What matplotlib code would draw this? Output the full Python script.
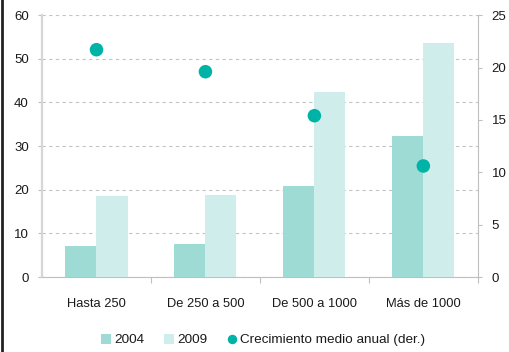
import matplotlib
matplotlib.use("Agg")
import matplotlib.pyplot as plt
from matplotlib.patches import Patch
from matplotlib.lines import Line2D
import numpy as np

plt.rcParams['font.family'] = ['Liberation Sans', 'DejaVu Sans']

categories = ["Hasta 250", "De 250 a 500", "De 500 a 1000", "Más de 1000"]
values_2004 = [7.0, 7.6, 20.9, 32.4]
values_2009 = [18.5, 18.8, 42.4, 53.6]
growth = [21.7, 19.6, 15.4, 10.6]

c2004 = "#9fdbd5"
c2009 = "#cfeeeb"
cdot = "#00b3a7"
text_color = "#1a1a1a"

fig = plt.figure(figsize=(5.10, 3.52), dpi=100)
ax = fig.add_axes([0.0824, 0.213, 0.8545, 0.744])
ax2 = ax.twinx()

x = np.arange(len(categories))
w = 0.285
ax.bar(x - w / 2, values_2004, width=w, color=c2004, zorder=3)
ax.bar(x + w / 2, values_2009, width=w, color=c2009, zorder=3)
ax2.scatter(x, growth, s=95, color=cdot, zorder=4, edgecolors='none')

ax.set_xlim(-0.5, 3.5)
ax.set_ylim(0, 60)
ax.set_yticks(np.arange(0, 61, 10))
ax2.set_ylim(0, 25)
ax2.set_yticks(np.arange(0, 26, 5))

ax.yaxis.grid(True, linestyle=(0, (3, 3)), color="#c4c4c4", linewidth=0.8, zorder=0)
ax.set_axisbelow(True)

# category boundaries as ticks, labels centred between them
ax.set_xticks([0.5, 1.5, 2.5, 3.5])
ax.set_xticklabels([])
ax.set_xticks(x, minor=True)
ax.set_xticklabels(categories, minor=True)
ax.tick_params(axis='x', which='major', length=4, color="#bfbfbf", direction='out')
ax.tick_params(axis='x', which='minor', length=0, pad=15, labelsize=9.3, labelcolor=text_color)
ax.tick_params(axis='y', length=3, color="#bfbfbf", labelsize=9.5, labelcolor=text_color, pad=6.5)
ax2.tick_params(axis='y', length=3, color="#bfbfbf", labelsize=9.5, labelcolor=text_color, pad=7)

for a in (ax, ax2):
    a.spines['top'].set_visible(False)
ax.spines['left'].set_color("#d6d6d6")
ax.spines['left'].set_linewidth(1.6)
ax.spines['bottom'].set_color("#bfbfbf")
ax.spines['right'].set_visible(False)
ax2.spines['left'].set_visible(False)
ax2.spines['bottom'].set_visible(False)
ax2.spines['right'].set_color("#bfbfbf")

handles = [
    Patch(facecolor=c2004, edgecolor='none'),
    Patch(facecolor=c2009, edgecolor='none'),
    Line2D([], [], marker='o', linestyle='none', color=cdot, markersize=5.8),
]
labels = ["2004", "2009", "Crecimiento medio anual (der.)"]
fig.legend(handles, labels, loc='center', bbox_to_anchor=(0.516, 0.034), ncol=3,
           frameon=False, fontsize=9.7, handlelength=0.75, handleheight=0.75,
           handletextpad=0.2, columnspacing=1.5, labelcolor=text_color)

# left frame edge
fig.add_artist(Line2D([0.004, 0.004], [0, 1], transform=fig.transFigure,
                      color="#222222", linewidth=2))

fig.savefig("out.png", dpi=100)
